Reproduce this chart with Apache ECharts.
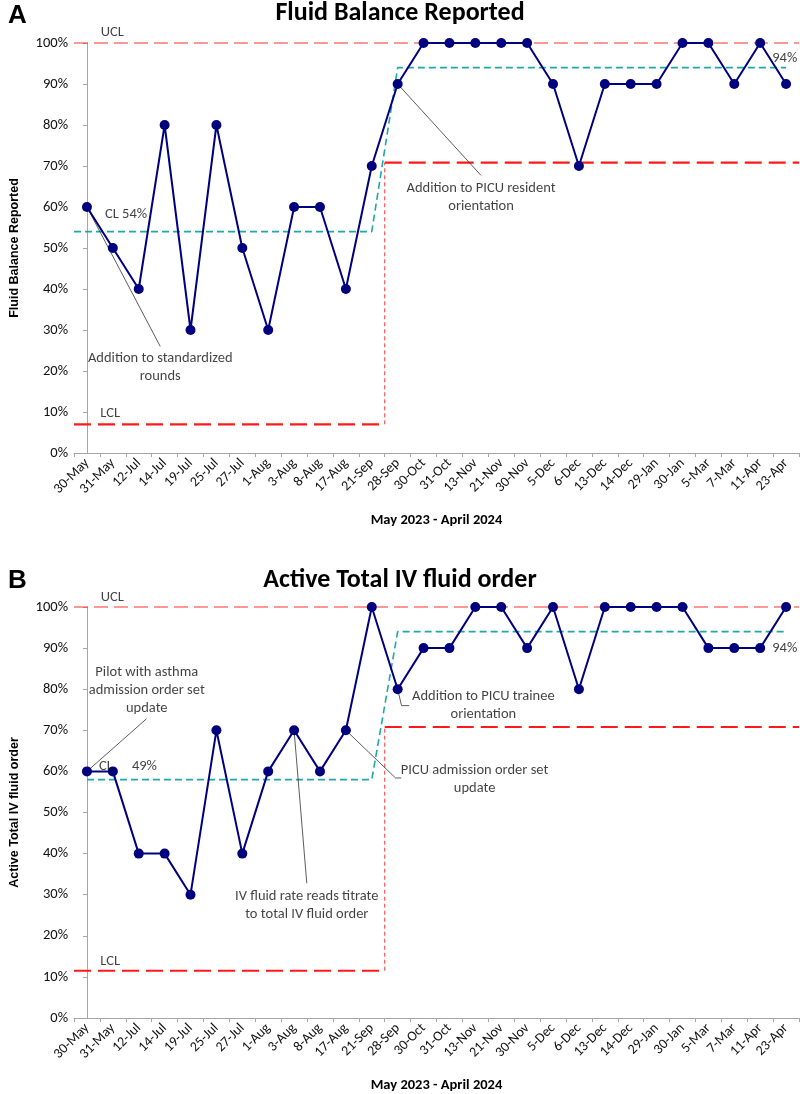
<!DOCTYPE html>
<html>
<head>
<meta charset="utf-8">
<script src="https://cdn.jsdelivr.net/npm/echarts@6/dist/echarts.min.js"></script>
<style>
  html, body { margin: 0; padding: 0; background: #fff; }
  #main { width: 800px; height: 1094px; }
</style>
</head>
<body>
<div id="main"></div>
<script>
// x-axis categories (same for both charts)
var categories = ['30-May', '31-May', '12-Jul', '14-Jul', '19-Jul', '25-Jul', '27-Jul', '1-Aug', '3-Aug',
    '8-Aug', '17-Aug', '21-Sep', '28-Sep', '30-Oct', '31-Oct', '13-Nov', '21-Nov', '30-Nov', '5-Dec',
    '6-Dec', '13-Dec', '14-Dec', '29-Jan', '30-Jan', '5-Mar', '7-Mar', '11-Apr', '23-Apr'];

// A: fluid balance reported (%)
var fluidBalance = [60, 50, 40, 80, 30, 80, 50, 30, 60, 60, 40, 70, 90, 100, 100, 100, 100, 100, 90,
    70, 90, 90, 90, 100, 100, 90, 100, 90];
// B: active total IV fluid order (%)
var ivOrder = [60, 60, 40, 40, 30, 70, 40, 60, 70, 60, 70, 100, 80, 90, 90, 100, 100, 90, 100,
    80, 100, 100, 100, 100, 90, 90, 90, 100];

// control limits, [phase 1, phase 2]
var shiftIndex = 12; // phase 2 starts at 28-Sep
var uclA = [100, 100], clA = [54, 94], lclA = [7, 70.8];
var uclB = [100, 100], clB = [58, 94], lclB = [11.5, 70.8];

var yTicks = [0, 100, 10]; // min, max, interval

// annotation texts [x (category units), y %]
var notesA = [
    { text: 'UCL', at: [0.98, 102.5] },
    { text: 'CL 54%', at: [1.51, 58.1] },
    { text: 'LCL', at: [0.9, 9.6] },
    { text: '94%', at: [26.95, 96.2] },
    { text: 'Addition to standardized\nrounds', at: [2.83, 20.8] },
    { text: 'Addition to PICU resident\norientation', at: [15.22, 62.4] }
];
var notesB = [
    { text: 'UCL', at: [0.98, 102.4] },
    { text: 'Pilot with asthma\nadmission order set\nupdate', at: [2.31, 79.7] },
    { text: 'CL', at: [0.73, 61.2] },
    { text: '49%', at: [2.22, 61.2] },
    { text: 'Addition to PICU trainee\norientation', at: [15.31, 76.0] },
    { text: 'PICU admission order set\nupdate', at: [14.97, 58.0] },
    { text: 'IV fluid rate reads titrate\nto total IV fluid order', at: [8.49, 27.4] },
    { text: 'LCL', at: [0.9, 13.8] },
    { text: '94%', at: [26.95, 89.9] }
];
// leader lines: start at a data point, then go through the given points
var leadersA = [
    { from: 0, path: [[2.83, 26.0]] },
    { from: 12, path: [[15.22, 67.7]] }
];
var leadersB = [
    { from: 0, path: [[2.3, 72.8]] },
    { from: 12, path: [[12.15, 76.0], [12.45, 76.0]] },
    { from: 10, path: [[11.92, 58.4], [12.14, 58.4]] },
    { from: 8, path: [[8.49, 32.8]] }
];

var FONT = 'Carlito, Lato, "Open Sans", sans-serif';
var TXT = '#111';
var last = categories.length - 1;

var chart = echarts.init(document.getElementById('main'), null, { renderer: 'canvas' });

function catAxis(gi) {
    return {
        type: 'category', gridIndex: gi, data: categories, boundaryGap: true,
        axisLine: { lineStyle: { color: '#a6a6a6', width: 1 } },
        axisTick: { show: true, length: 4, lineStyle: { color: '#a6a6a6' } },
        axisLabel: { rotate: 45, interval: 0, fontSize: 14, color: TXT, fontFamily: FONT, margin: 8 },
        name: 'May 2023 - April 2024', nameLocation: 'middle', nameGap: 60,
        nameTextStyle: { fontSize: 14.5, fontWeight: 'bold', color: '#000', fontFamily: FONT }
    };
}
function valAxis(gi) {
    return { type: 'value', gridIndex: gi, min: -0.5, max: last + 0.5, show: false, splitLine: { show: false } };
}
function yAxis(gi, name) {
    return {
        type: 'value', gridIndex: gi, min: yTicks[0], max: yTicks[1], interval: yTicks[2],
        splitLine: { show: false },
        axisLine: { show: true, lineStyle: { color: '#a6a6a6' } },
        axisTick: { show: true, length: 4, lineStyle: { color: '#a6a6a6' } },
        axisLabel: { formatter: '{value}%', fontSize: 14.5, color: TXT, fontFamily: FONT, margin: 6 },
        name: name, nameLocation: 'middle', nameGap: 53, nameRotate: 90,
        nameTextStyle: { fontSize: 12.5, fontWeight: 'bold', color: '#000', fontFamily: 'Liberation Sans, Arial, sans-serif' }
    };
}

function limitSeries(xi, yi, ucl, cl, lcl, clFromEdge) {
    var b = shiftIndex - 0.5;
    var base = { type: 'line', xAxisIndex: xi, yAxisIndex: yi, symbol: 'none', silent: true, z: 2, clip: false };
    var clStart = clFromEdge ? -0.5 : 0;
    return [
        Object.assign({}, base, { data: [[-0.5, ucl[0]], [b, ucl[0]], [b, ucl[1]], [last + 0.5, ucl[1]]],
            lineStyle: { color: '#ff3030', width: 1.2, type: [14, 6] } }),
        Object.assign({}, base, { data: [[-0.5, lcl[0]], [b, lcl[0]]],
            lineStyle: { color: '#ff1a1a', width: 2.2, type: [17, 7] } }),
        Object.assign({}, base, { data: [[b, lcl[0]], [b, lcl[1]]],
            lineStyle: { color: '#ff3b3b', width: 1, type: [4, 3] } }),
        Object.assign({}, base, { data: [[b, lcl[1]], [last + 0.5, lcl[1]]],
            lineStyle: { color: '#ff1a1a', width: 2.2, type: [17, 7] } }),
        Object.assign({}, base, { data: [[clStart, cl[0]], [shiftIndex - 1, cl[0]], [shiftIndex, cl[1]], [last, cl[1]]],
            lineStyle: { color: '#1ea8a8', width: 1.6, type: [7, 4] } })
    ];
}

function dataSeries(xi, yi, values) {
    return {
        type: 'line', xAxisIndex: xi, yAxisIndex: yi, data: values, z: 4, clip: false,
        symbol: 'circle', symbolSize: 10, silent: true,
        itemStyle: { color: '#00007f' },
        lineStyle: { color: '#00007f', width: 2 }
    };
}

function leaderSeries(xi, yi, leaders, values) {
    return leaders.map(function (l) {
        return {
            type: 'line', xAxisIndex: xi, yAxisIndex: yi, symbol: 'none', silent: true, z: 3, clip: false,
            data: [[l.from, values[l.from]]].concat(l.path),
            lineStyle: { color: '#333', width: 0.8 }
        };
    });
}

function noteSeries(xi, yi, notes) {
    return {
        type: 'scatter', xAxisIndex: xi, yAxisIndex: yi, symbolSize: 0, silent: true, clip: false, z: 5,
        data: notes.map(function (n) { return { value: n.at, label: { formatter: n.text } }; }),
        label: { show: true, position: 'inside', color: TXT, fontSize: 14.5, lineHeight: 18,
            fontFamily: FONT, align: 'center', verticalAlign: 'middle' }
    };
}

var option = {
    backgroundColor: '#fff',
    animation: false,
    title: [
        { text: 'A', left: 3, top: -2, textStyle: { fontSize: 26, fontWeight: 'bold', color: '#000', fontFamily: 'Liberation Sans, Arial, sans-serif' } },
        { text: 'Fluid Balance Reported', left: 'center', top: -5, textStyle: { fontSize: 26, fontWeight: 'bold', color: '#000', fontFamily: FONT } },
        { text: 'B', left: 3, top: 563, textStyle: { fontSize: 26, fontWeight: 'bold', color: '#000', fontFamily: 'Liberation Sans, Arial, sans-serif' } },
        { text: 'Active Total IV fluid order', left: 'center', top: 562, textStyle: { fontSize: 26, fontWeight: 'bold', color: '#000', fontFamily: FONT } }
    ],
    grid: [
        { left: 64, right: 1, top: 43, height: 410 },
        { left: 64, right: 1, top: 607, height: 411 }
    ],
    xAxis: [catAxis(0), valAxis(0), catAxis(1), valAxis(1)],
    yAxis: [yAxis(0, 'Fluid Balance Reported'), yAxis(1, 'Active Total IV fluid order')],
    series: [].concat(
        limitSeries(1, 0, uclA, clA, lclA, true),
        leaderSeries(1, 0, leadersA, fluidBalance),
        [dataSeries(0, 0, fluidBalance), noteSeries(1, 0, notesA)],
        limitSeries(3, 1, uclB, clB, lclB, false),
        leaderSeries(3, 1, leadersB, ivOrder),
        [dataSeries(2, 1, ivOrder), noteSeries(3, 1, notesB)]
    )
};

chart.setOption(option);
</script>
</body>
</html>
